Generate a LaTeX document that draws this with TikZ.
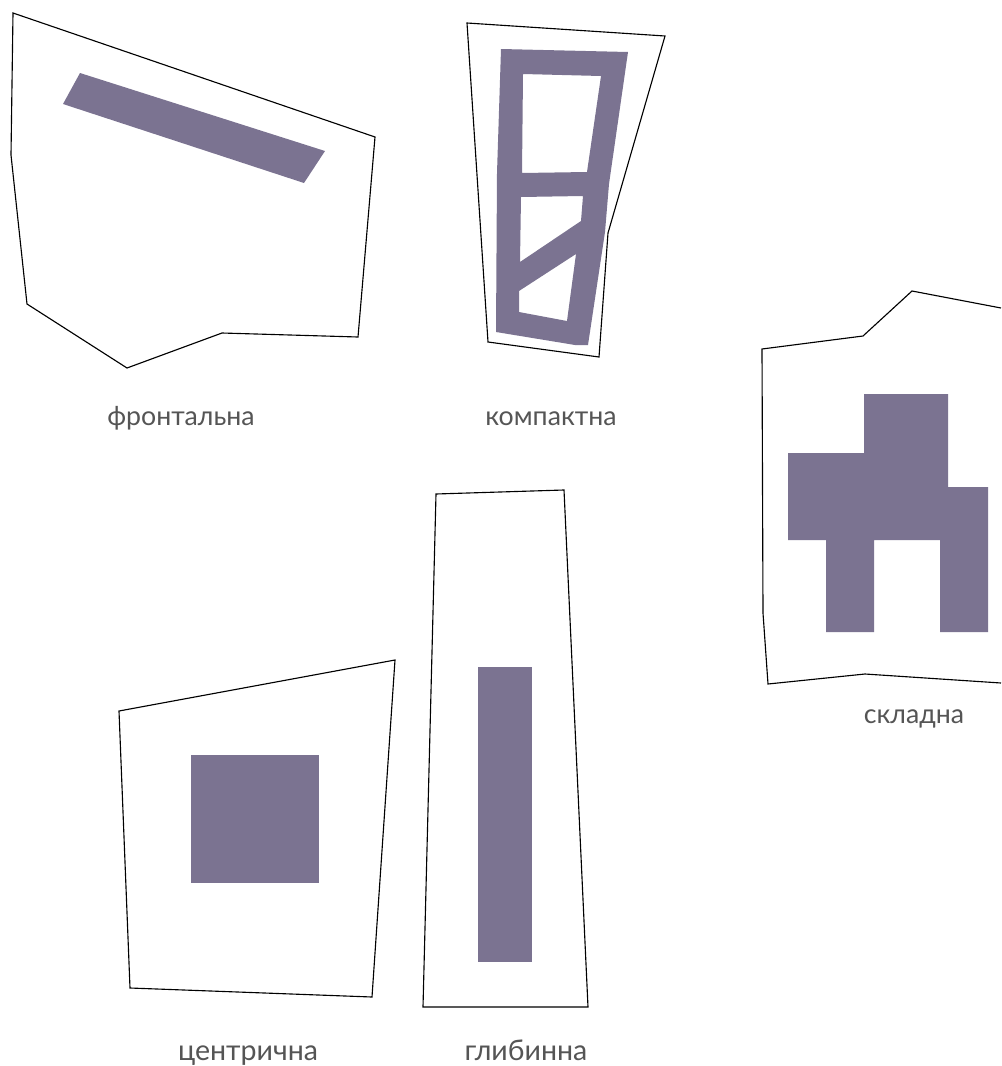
\documentclass[tikz,border=0pt]{standalone}
\usepackage{fontspec}
\setmainfont{Lato}
\usepackage{tikz}
\definecolor{massfill}{HTML}{7B7391}
\definecolor{labelgray}{HTML}{555555}

\begin{document}
\begin{tikzpicture}[x=0.025cm, y=-0.025cm]
    \tikzstyle{plot} = [draw=black, line width=0.8pt, line join=miter]
    \tikzstyle{mass} = [fill=massfill, draw=none, even odd rule]
    \tikzstyle{caption} = [font=\fontsize{19}{23}\selectfont, text=labelgray, inner sep=0pt, anchor=base]
    \tikzstyle{lowcaption} = [caption, font=\fontsize{20.3}{24}\selectfont]

    \useasboundingbox (0,0) rectangle (1001,1066);

    \draw [plot] (13,13) -- (375,137) -- (358,337) -- (222,333) -- (127,368) -- (27,304) -- (11,155) -- cycle;
    \fill [mass] (80,73) -- (325,151) -- (304,183) -- (63,104) -- cycle;
    \node [caption] (frontal) at (181,425) {фронтальна};

    \draw [plot] (467,23) -- (665,36) -- (608,233) -- (599,357) -- (488,342) -- cycle;
    \fill [mass] (501,49) -- (628,52) -- (609,184) -- (605,232) -- (588,345) -- (575,345) -- (496,332) -- (497,173) -- cycle
        (523,74) -- (601,76) -- (587,172) -- (522,173) -- cycle
        (521,197) -- (583,196) -- (581,221) -- (520,262) -- cycle
        (576,254) -- (567,321) -- (519,312) -- (519,291) -- cycle;
    \node [caption] (compact) at (551,425) {компактна};

    \draw [plot] (1001,308) -- (912,291) -- (863,336) -- (762,349) -- (763,613) -- (768,684) -- (865,674) -- (1001,683);
    \fill [mass] (864,394) -- (948,394) -- (948,487) -- (988,487) -- (988,632) -- (940,632) -- (940,540) -- (874,540) -- (874,632) -- (826,632) -- (826,540) -- (788,540) -- (788,453) -- (864,453) -- cycle;
    \node [caption] (complex) at (914,723) {складна};

    \draw [plot] (119,711) -- (395,660) -- (372,997) -- (130,988) -- cycle;
    \fill [mass] (191,755) rectangle (319,883);
    \node [lowcaption] (central) at (248,1060) {центрична};

    \draw [plot] (436,494) -- (564,490) -- (588,1007) -- (423,1007) -- cycle;
    \fill [mass] (478,667) rectangle (532,962);
    \node [lowcaption] (deep) at (526,1060) {глибинна};
\end{tikzpicture}
\end{document}
